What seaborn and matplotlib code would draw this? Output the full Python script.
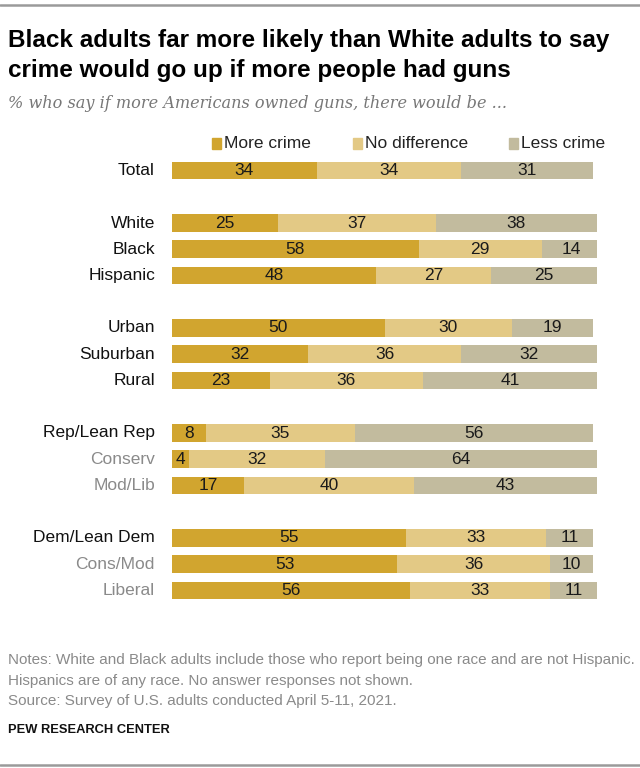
import matplotlib
matplotlib.use("Agg")
import matplotlib.pyplot as plt
import matplotlib.patches as mpatches
from matplotlib.lines import Line2D
import seaborn as sns
import pandas as pd
import numpy as np

categories = ["Total", "White", "Black", "Hispanic", "Urban", "Suburban", "Rural",
              "Rep/Lean Rep", "Conserv", "Mod/Lib", "Dem/Lean Dem", "Cons/Mod", "Liberal"]
more_crime = [34, 25, 58, 48, 50, 32, 23, 8, 4, 17, 55, 53, 56]
no_difference = [34, 37, 29, 27, 30, 36, 36, 35, 32, 40, 33, 36, 33]
less_crime = [31, 38, 14, 25, 19, 32, 41, 56, 64, 43, 11, 10, 11]
sub_rows = ["Conserv", "Mod/Lib", "Cons/Mod", "Liberal"]
series_names = ["More crime", "No difference", "Less crime"]

colors = ["#D1A52F", "#E3C985", "#C2BB9E"]
positions = [0, 2, 3, 4, 6, 7, 8, 10, 11, 12, 14, 15, 16]

sns.set_theme(style="white")
FONT = ["Liberation Sans", "DejaVu Sans"]
plt.rcParams["font.family"] = FONT

df = pd.DataFrame({"cat": categories, "pos": positions,
                   "more": more_crime, "nodiff": no_difference, "less": less_crime})
df["c1"] = df["more"]
df["c2"] = df["more"] + df["nodiff"]
df["c3"] = df["c2"] + df["less"]

fig = plt.figure(figsize=(6.4, 7.68), dpi=100)
ax_left = 172 / 640
ax_w = 425 / 640
row_px = 26.25
ax_h_px = 17 * row_px
ax_top_px = 170.5 - row_px / 2
ax = fig.add_axes([ax_left, 1 - (ax_top_px + ax_h_px) / 768, ax_w, ax_h_px / 768])

for col, color in zip(["c3", "c2", "c1"], colors[::-1]):
    sns.barplot(data=df, x=col, y="pos", orient="h", native_scale=True,
                color=color, saturation=1, width=0.68, linewidth=0, ax=ax)

ax.set_xlim(0, 100)
ax.set_ylim(16.5, -0.5)
ax.axis("off")

for i, row in df.iterrows():
    p = row["pos"]
    starts = [0, row["c1"], row["c2"]]
    vals = [row["more"], row["nodiff"], row["less"]]
    for s, v in zip(starts, vals):
        ax.text(s + v / 2, p, str(v), ha="center", va="center", fontsize=12.5,
                color="#1a1a1a")
    ax.text(-4, p, row["cat"], ha="right", va="center", fontsize=12.5,
            color="#8a8a8a" if row["cat"] in sub_rows else "#111111",
            transform=ax.transData, clip_on=False)

# Legend
leg_items = [(212, "More crime"), (353, "No difference"), (509, "Less crime")]
for (x, name), color in zip(leg_items, colors):
    fig.patches.append(mpatches.Rectangle((x / 640, 1 - 149 / 768), 9 / 640, 11 / 768,
                                          transform=fig.transFigure, color=color))
    fig.text((x + 12) / 640, 1 - 143 / 768, name, ha="left", va="center",
             fontsize=12.5, color="#222222")

# Title, subtitle
fig.text(8 / 640, 1 - 40 / 768, "Black adults far more likely than White adults to say",
         fontsize=17.5, fontweight="bold", ha="left", va="center", color="#000000")
fig.text(8 / 640, 1 - 70 / 768, "crime would go up if more people had guns",
         fontsize=17.5, fontweight="bold", ha="left", va="center", color="#000000")
fig.text(8 / 640, 1 - 103 / 768, "% who say if more Americans owned guns, there would be ...",
         fontsize=11.6, fontstyle="italic", ha="left", va="center", color="#777777",
         family=["DejaVu Serif"])

# Notes
notes = ["Notes: White and Black adults include those who report being one race and are not Hispanic.",
         "Hispanics are of any race. No answer responses not shown.",
         "Source: Survey of U.S. adults conducted April 5-11, 2021."]
for k, t in enumerate(notes):
    fig.text(8 / 640, 1 - (660 + 20.5 * k) / 768, t, fontsize=11.0, ha="left",
             va="center", color="#8a8a8a")
fig.text(8 / 640, 1 - 730 / 768, "PEW RESEARCH CENTER", fontsize=9.3, fontweight="bold",
         ha="left", va="center", color="#111111")

# Top and bottom rules
for y in [5, 765]:
    fig.lines.append(Line2D([0, 1], [1 - y / 768, 1 - y / 768], transform=fig.transFigure,
                            color="#9a9a9a", linewidth=1.8))

fig.savefig("out.png", dpi=100, facecolor="white")
